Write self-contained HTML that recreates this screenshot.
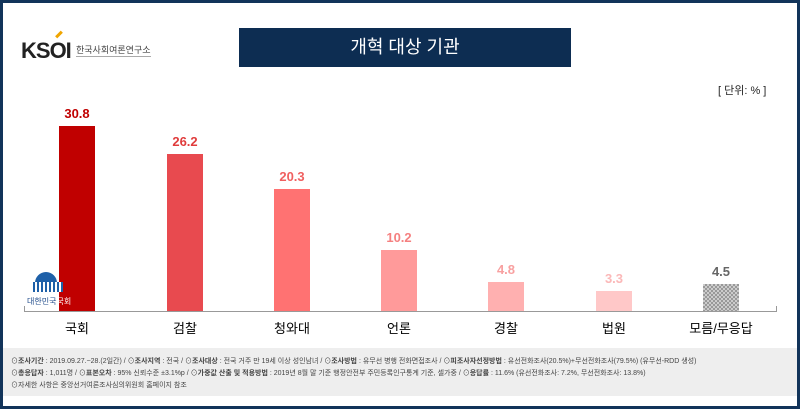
<!DOCTYPE html>
<html><head><meta charset="utf-8"><style>
body{margin:0;width:800px;height:409px;overflow:hidden;background:#fff;font-family:"Liberation Sans","Noto Sans CJK KR",sans-serif}
.frame{position:absolute;left:0;top:0;width:794px;height:403px;border:3px solid #12345a;background:#fff}
.t{position:absolute;white-space:nowrap}
.bar{position:absolute;width:36px}
.v{position:absolute;width:80px;text-align:center;font-size:13px;font-weight:bold}
.c{position:absolute;width:100px;text-align:center;font-size:13px;color:#000;top:318px}
.foot{position:absolute;left:3px;top:348px;width:794px;height:48px;background:#eeeeee;font-size:7px;color:#444;line-height:12px}
</style></head><body>
<div class="frame"></div>
<div class="t" style="left:21px;top:38px;font-size:22px;font-weight:bold;color:#222;letter-spacing:-1px">K<span style="font-weight:bold">SOI</span></div>
<div style="position:absolute;left:55px;top:33px;width:8px;height:3px;background:#f0a500;transform:rotate(-45deg)"></div>
<div class="t" style="left:76px;top:43px;font-size:9px;color:#444;border-bottom:1px solid #aaa">한국사회여론연구소</div>
<div style="position:absolute;left:239px;top:28px;width:332px;height:39px;background:#0d2d52;color:#fff;font-size:18px;text-align:center;line-height:39px">개혁 대상 기관</div>
<div class="t" style="left:718px;top:82px;font-size:11px;color:#222">[ 단위: % ]</div>
<div style="position:absolute;left:24px;top:311px;width:753px;height:1px;background:#999"></div>
<div style="position:absolute;left:24px;top:306px;width:1px;height:5px;background:#999"></div>
<div style="position:absolute;left:776px;top:306px;width:1px;height:5px;background:#999"></div>
<div class="bar" style="left:59px;top:126px;height:185px;background:#c00000"></div>
<div class="bar" style="left:167px;top:154px;height:157px;background:#e84a4f"></div>
<div class="bar" style="left:274px;top:189px;height:122px;background:#ff7272"></div>
<div class="bar" style="left:381px;top:250px;height:61px;background:#ff9a9a"></div>
<div class="bar" style="left:488px;top:282px;height:29px;background:#ffb0b0"></div>
<div class="bar" style="left:596px;top:291px;height:20px;background:#ffc8c8"></div>
<div class="bar" style="left:703px;top:284px;height:27px;background:repeating-conic-gradient(#999 0 25%,#ccc 0 50%) 0 0/4px 4px"></div>
<div class="v" style="left:37px;top:106px;color:#c00000">30.8</div>
<div class="v" style="left:145px;top:134px;color:#e03c3c">26.2</div>
<div class="v" style="left:252px;top:169px;color:#f06060">20.3</div>
<div class="v" style="left:359px;top:230px;color:#f58080">10.2</div>
<div class="v" style="left:466px;top:262px;color:#f8a0a0">4.8</div>
<div class="v" style="left:574px;top:271px;color:#fbb8b8">3.3</div>
<div class="v" style="left:681px;top:264px;color:#666">4.5</div>
<div style="position:absolute;left:35px;top:272px;width:22px;height:12px;border-radius:11px 11px 0 0;background:#1e60a8"></div>
<div style="position:absolute;left:33px;top:282px;width:30px;height:10px;background:repeating-linear-gradient(90deg,#1e60a8 0 2px,#fff 2px 4px)"></div>
<div class="t" style="left:27px;top:296px;font-size:8px;color:#1e4a8a">대한민국<span style="color:#fff">국회</span></div>
<div class="c" style="left:27px">국회</div>
<div class="c" style="left:135px">검찰</div>
<div class="c" style="left:242px">청와대</div>
<div class="c" style="left:349px">언론</div>
<div class="c" style="left:456px">경찰</div>
<div class="c" style="left:564px">법원</div>
<div class="c" style="left:671px">모름/무응답</div>
<div class="foot"><div style="padding:8px 0 0 8px">⊙<b>조사기간</b> : 2019.09.27.~28.(2일간) / ⊙<b>조사지역</b> : 전국 / ⊙<b>조사대상</b> : 전국 거주 만 19세 이상 성인남녀 / ⊙<b>조사방법</b> : 유무선 병행 전화면접조사 / ⊙<b>피조사자선정방법</b> : 유선전화조사(20.5%)+무선전화조사(79.5%) (유무선-RDD 생성)<br>⊙<b>총응답자</b> : 1,011명 / ⊙<b>표본오차</b> : 95% 신뢰수준 ±3.1%p / ⊙<b>가중값 산출 및 적용방법</b> : 2019년 8월 말 기준 행정안전부 주민등록인구통계 기준, 셀가중 / ⊙<b>응답률</b> : 11.6% (유선전화조사: 7.2%, 무선전화조사: 13.8%)<br>⊙자세한 사항은 중앙선거여론조사심의위원회 홈페이지 참조</div></div>
</body></html>
